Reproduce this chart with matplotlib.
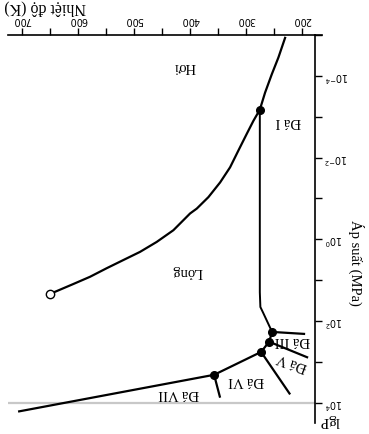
import matplotlib
matplotlib.use("Agg")
import matplotlib.pyplot as plt
from matplotlib.ticker import MultipleLocator, FuncFormatter
from matplotlib.lines import Line2D

# ---- data (temperature K, lg of pressure in MPa) ----
sub_T = [230.4, 242.3, 254.1, 266.1, 275.5]
sub_lgP = [-4.93, -4.45, -4.04, -3.59, -3.17]

vap_T = [275.5, 286.9, 298.8, 313.8, 328.6, 346.4, 367.3, 388.0, 400.0,
         429.8, 459.5, 489.3, 519.1, 548.8, 578.6, 608.9, 650.0]
vap_lgP = [-3.17, -2.90, -2.58, -2.17, -1.76, -1.39, -1.03, -0.75, -0.63,
           -0.22, 0.066, 0.31, 0.51, 0.71, 0.92, 1.10, 1.34]

melt1_T = [275.5, 275.5, 274.5, 269.6, 253.6]
melt1_lgP = [-3.17, 1.30, 1.66, 1.80, 2.27]

# other phase boundaries: (T list, lgP list)
b_I_III = ([253.6, 194.6], [2.27, 2.32])
b_L_III = ([253.6, 258.9], [2.27, 2.51])
b_III_V = ([258.9, 189.3], [2.51, 2.90])
b_L_V = ([258.9, 273.2], [2.51, 2.76])
b_V_VI = ([273.2, 221.4], [2.76, 3.80])
b_L_VI = ([273.2, 357.1], [2.76, 3.32])
b_VI_VII = ([357.1, 346.4], [3.32, 3.88])
b_L_VII = ([357.1, 707.0], [3.32, 4.22])

triple_T = [275.5, 253.6, 258.9, 273.2, 357.1]
triple_lgP = [-3.17, 2.27, 2.51, 2.76, 3.32]
crit_T = [650.0]
crit_lgP = [1.34]

x_major = [200, 300, 400, 500, 600, 700]
x_minor = [250, 350, 450, 550, 650]

W, H = 369, 434
fig = plt.figure(figsize=(W / 100, H / 100), dpi=100)
ax = fig.add_axes([8 / W, 1 - 423 / H, 307 / W, 388 / H])

serif = ["Liberation Serif", "DejaVu Serif"]
lw = 1.6
k = "black"

ax.axhline(4, color="#c8c8c8", lw=1.6, zorder=1)
ax.plot(sub_T, sub_lgP, color=k, lw=lw)
ax.plot(vap_T, vap_lgP, color=k, lw=lw)
ax.plot(melt1_T, melt1_lgP, color=k, lw=1.4)
for bt, bp in [b_I_III, b_L_III, b_III_V, b_L_V, b_V_VI, b_L_VI, b_VI_VII, b_L_VII]:
    ax.plot(bt, bp, color=k, lw=lw, solid_capstyle="butt")
ax.plot(triple_T, triple_lgP, "o", color=k, ms=5.5, zorder=5)
ax.plot(crit_T, crit_lgP, "o", mfc="white", mec=k, mew=1.0, ms=6, zorder=5)

ax.set_xlim(725, 177)
ax.set_ylim(4.5, -5)

for s in ["left", "bottom"]:
    ax.spines[s].set_visible(False)
for s in ["top", "right"]:
    ax.spines[s].set_linewidth(1.2)
ax.add_line(Line2D([1.0, 1.023], [1.0, 1.0], transform=ax.transAxes,
                   color=k, lw=1.2, clip_on=False))

ax.xaxis.set_ticks_position("top")
ax.yaxis.set_ticks_position("right")
ax.set_xticks(x_major)
ax.set_xticks(x_minor, minor=True)
ax.yaxis.set_major_locator(MultipleLocator(2))
ax.yaxis.set_minor_locator(MultipleLocator(1))
ax.yaxis.set_major_formatter(FuncFormatter(lambda v, p: r"$10^{%d}$" % round(v)))
ax.tick_params(axis="both", which="both", direction="out", length=5, width=1.0,
               color=k, pad=2)
ax.tick_params(axis="x", labelsize=7, labelrotation=180)
ax.tick_params(axis="y", labelsize=7, labelrotation=180)

fs = 10.5
ax.text(409, -4.24, "Hơi", family=serif, fontsize=fs, rotation=180, ha="center", va="center")
ax.text(225, -2.88, "Đá I", family=serif, fontsize=fs, rotation=180, ha="center", va="center")
ax.text(405, 0.8, "Lỏng", family=serif, fontsize=fs, rotation=180, ha="center", va="center")
ax.text(218, 2.49, "Đá III", family=serif, fontsize=fs, rotation=180, ha="center", va="center")
ax.text(218, 3.0, "Đá V", family=serif, fontsize=fs, rotation=160, ha="center", va="center")
ax.text(300, 3.46, "Đá VI", family=serif, fontsize=fs, rotation=180, ha="center", va="center")
ax.text(421, 3.78, "Đá VII", family=serif, fontsize=fs, rotation=180, ha="center", va="center")

fig.text(45 / W, 1 - 8 / H, "Nhiệt độ (K)", family=serif, fontsize=11.5, rotation=180,
         ha="center", va="center")
fig.text(356 / W, 1 - 263 / H, "Áp suất (MPa)", family=serif, fontsize=10.5, rotation=270,
         ha="center", va="center")
fig.text(330 / W, 1 - 421 / H, "lgP", family=serif, fontsize=11, rotation=180,
         ha="center", va="center")

fig.savefig("out.png", dpi=100)
